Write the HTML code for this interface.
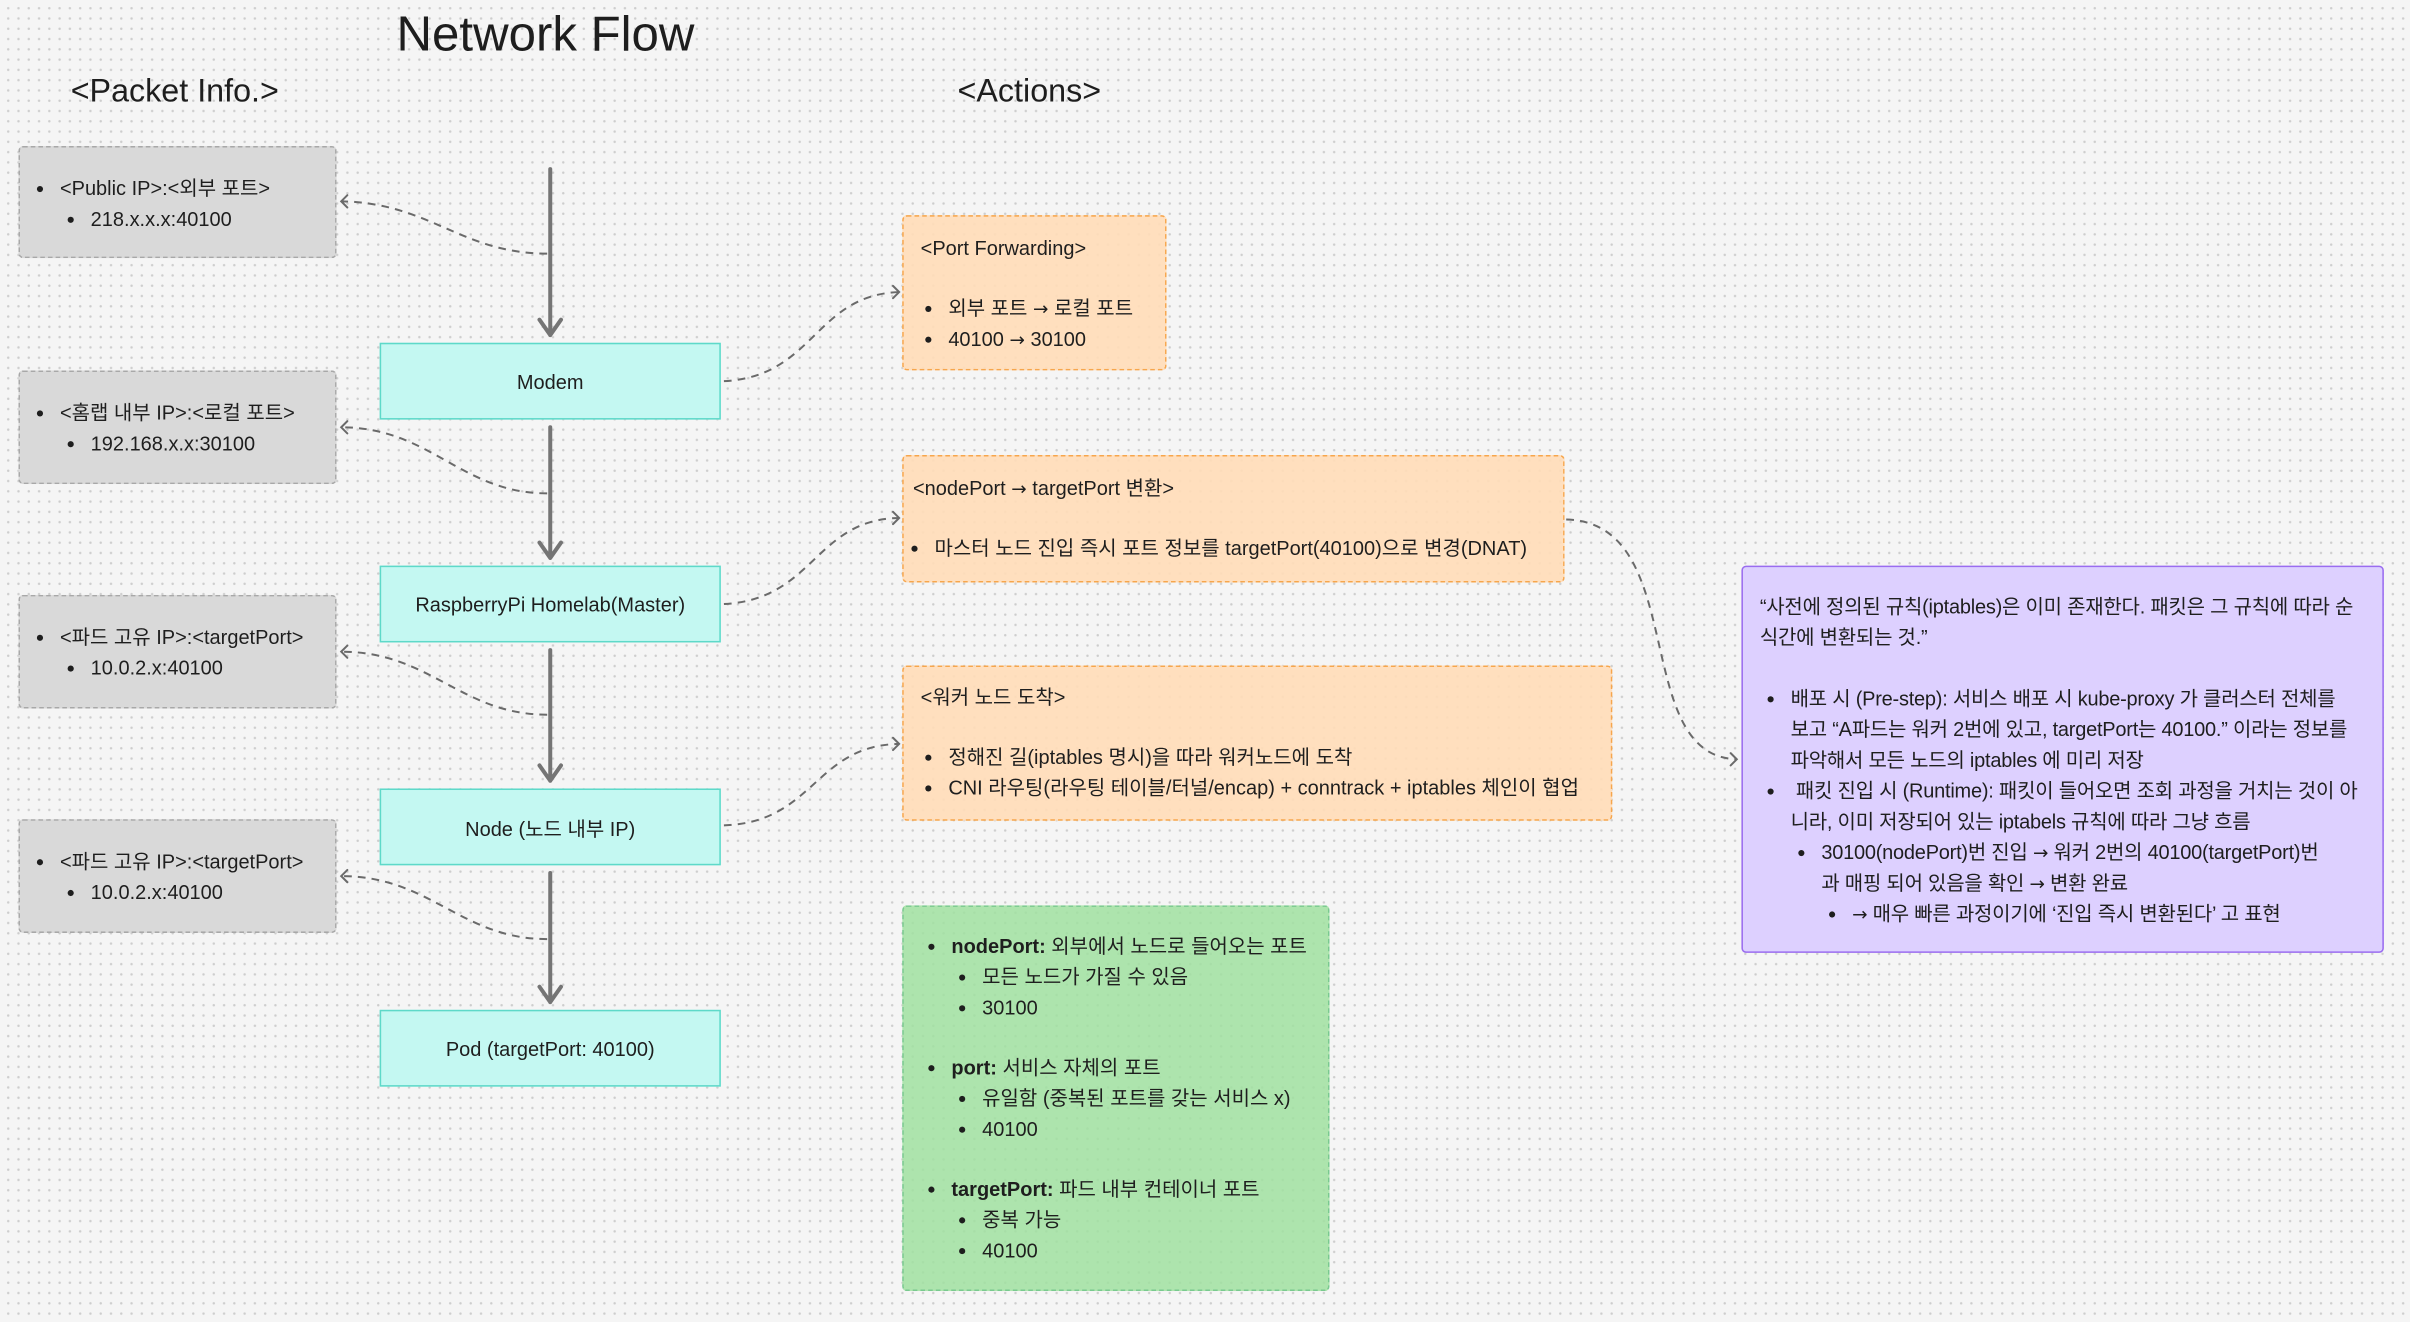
<!DOCTYPE html>
<html><head><meta charset="utf-8"><style>
html,body{margin:0;padding:0;width:2410px;height:1322px;overflow:hidden;background:#f5f5f5}
#w{position:absolute;left:0;top:0;width:1568px;height:860px;transform:scale(1.53699);transform-origin:0 0;
background-color:#f5f5f5;background-image:radial-gradient(circle,#cdcdcd 0.6px,transparent 1px);background-size:6.7px 6.7px;background-position:2px 2px;
font-family:"Liberation Sans","Noto Sans CJK KR",sans-serif;color:#1e1e1e}
.a{position:absolute;box-sizing:border-box}
.g{background:#d9d9d9;border:1.5px dashed #a8a8a8;border-radius:3px}
.c{background:#c4f8f2;border:1.5px solid #5ed9c9;display:flex;align-items:center;justify-content:center;font-size:13px}
.o{background:rgba(255,220,185,.92);border:1.5px dashed #f7a64c;border-radius:3px}
.gr{background:rgba(160,225,160,.85);border:1.5px dashed #79c98f;border-radius:3px}
.p{background:#ddd0ff;border:1.5px solid #9a6cf0;border-radius:3px;white-space:nowrap}
ul{margin:0;padding:0 0 0 18px;list-style:disc}
ul ul{padding-left:20px}
li{font-size:13px;line-height:20px}
.t{font-size:13px;line-height:20px}
.r{font-family:"DejaVu Sans",sans-serif;font-size:12px}
</style></head><body><div id="w">
<div class="a" style="left:258px;top:2px;font-size:32px;line-height:40px">Network Flow</div>
<div class="a" style="left:46px;top:46px;font-size:21px;line-height:28px">&lt;Packet Info.&gt;</div>
<div class="a" style="left:623px;top:46px;font-size:21px;line-height:28px">&lt;Actions&gt;</div>

<div class="a g" style="left:12px;top:95px;width:207px;height:73px;padding:17px 0 0 8px"><ul><li>&lt;Public IP&gt;:&lt;외부 포트&gt;<ul><li>218.x.x.x:40100</li></ul></li></ul></div>
<div class="a g" style="left:12px;top:241px;width:207px;height:74px;padding:17px 0 0 8px"><ul><li>&lt;홈랩 내부 IP&gt;:&lt;로컬 포트&gt;<ul><li>192.168.x.x:30100</li></ul></li></ul></div>
<div class="a g" style="left:12px;top:387px;width:207px;height:74px;padding:17px 0 0 8px"><ul><li>&lt;파드 고유 IP&gt;:&lt;targetPort&gt;<ul><li>10.0.2.x:40100</li></ul></li></ul></div>
<div class="a g" style="left:12px;top:533px;width:207px;height:74px;padding:17px 0 0 8px"><ul><li>&lt;파드 고유 IP&gt;:&lt;targetPort&gt;<ul><li>10.0.2.x:40100</li></ul></li></ul></div>

<div class="a c" style="left:247px;top:223px;width:222px;height:50px">Modem</div>
<div class="a c" style="left:247px;top:368px;width:222px;height:50px">RaspberryPi Homelab(Master)</div>
<div class="a c" style="left:247px;top:513px;width:222px;height:50px">Node (노드 내부 IP)</div>
<div class="a c" style="left:247px;top:657px;width:222px;height:50px">Pod (targetPort: 40100)</div>

<div class="a o" style="left:587px;top:140px;width:172px;height:101px;padding:11px 0 0 11px"><div class="t">&lt;Port Forwarding&gt;</div><div style="height:19px"></div><ul><li>외부 포트 <span class="r">→</span> 로컬 포트</li><li>40100 <span class="r">→</span> 30100</li></ul></div>
<div class="a o" style="left:587px;top:296px;width:431px;height:83px;padding:11px 0 0 6px"><div class="t">&lt;nodePort <span class="r">→</span> targetPort 변환&gt;</div><div style="height:19px"></div><ul style="padding-left:14px"><li>마스터 노드 진입 즉시 포트 정보를 targetPort(40100)으로 변경(DNAT)</li></ul></div>
<div class="a o" style="left:587px;top:433px;width:462px;height:101px;padding:10px 0 0 11px"><div class="t">&lt;워커 노드 도착&gt;</div><div style="height:19px"></div><ul><li>정해진 길(iptables 명시)을 따라 워커노드에 도착</li><li>CNI 라우팅(라우팅 테이블/터널/encap) + conntrack + iptables 체인이 협업</li></ul></div>

<div class="a gr" style="left:587px;top:589px;width:278px;height:251px;padding:16px 0 0 13px"><ul>
<li><b>nodePort:</b> 외부에서 노드로 들어오는 포트<ul><li>모든 노드가 가질 수 있음</li><li>30100</li></ul></li></ul><div style="height:19px"></div><ul>
<li><b>port:</b> 서비스 자체의 포트<ul><li>유일함 (중복된 포트를 갖는 서비스 x)</li><li>40100</li></ul></li></ul><div style="height:19px"></div><ul>
<li><b>targetPort:</b> 파드 내부 컨테이너 포트<ul><li>중복 가능</li><li>40100</li></ul></li></ul></div>

<div class="a p" style="left:1133px;top:368px;width:418px;height:252px;padding:16px 4px 0 11px;letter-spacing:-0.15px"><div class="t">“사전에 정의된 규칙(iptables)은 이미 존재한다. 패킷은 그 규칙에 따라 순<br>식간에 변환되는 것.”</div><div style="height:20px"></div><ul style="padding-left:20px">
<li>배포 시 (Pre-step): 서비스 배포 시 kube-proxy 가 클러스터 전체를<br>보고 “A파드는 워커 2번에 있고, targetPort는 40100.” 이라는 정보를<br>파악해서 모든 노드의 iptables 에 미리 저장</li>
<li>&nbsp;패킷 진입 시 (Runtime): 패킷이 들어오면 조회 과정을 거치는 것이 아<br>니라, 이미 저장되어 있는 iptabels 규칙에 따라 그냥 흐름<ul><li>30100(nodePort)번 진입 <span class="r">→</span> 워커 2번의 40100(targetPort)번<br>과 매핑 되어 있음을 확인 <span class="r">→</span> 변환 완료<ul><li><span class="r">→</span> 매우 빠른 과정이기에 ‘진입 즉시 변환된다’ 고 표현</li></ul></li></ul></li></ul></div>

<svg class="a" style="left:0;top:0" width="1568" height="860" viewBox="0 0 1568 860" fill="none">
<g stroke="#757575" stroke-width="2.6" stroke-linecap="round" stroke-linejoin="round">
<path d="M358 110V218M351 208L358 218L365 208"/>
<path d="M358 278V363M351 353L358 363L365 353"/>
<path d="M358 423V508M351 498L358 508L365 498"/>
<path d="M358 568V652M351 642L358 652L365 642"/>
</g>
<g stroke="#6a6a6a" stroke-width="1.3" stroke-dasharray="5 4">
<path d="M356 165C300 165 280 132 222 131"/>
<path d="M356 321C300 321 280 278 222 278"/>
<path d="M356 465C300 465 280 424 222 424"/>
<path d="M356 611C300 611 280 570 222 570"/>
<path d="M471 248C530 245 530 192 585 190"/>
<path d="M471 393C530 390 530 338 585 337"/>
<path d="M471 537C530 535 530 485 585 484"/>
<path d="M1019 338C1100 340 1060 492 1130 494"/>
</g>
<g stroke="#6a6a6a" stroke-width="1.3" stroke-linecap="round">
<path d="M226 127L222 131L226 135"/><path d="M226 274L222 278L226 282"/><path d="M226 420L222 424L226 428"/><path d="M226 566L222 570L226 574"/>
<path d="M581 186L585 190L581 194"/><path d="M581 333L585 337L581 341"/><path d="M581 480L585 484L581 488"/><path d="M1126 490L1130 494L1126 498"/>
</g>
</svg>
</div></body></html>
